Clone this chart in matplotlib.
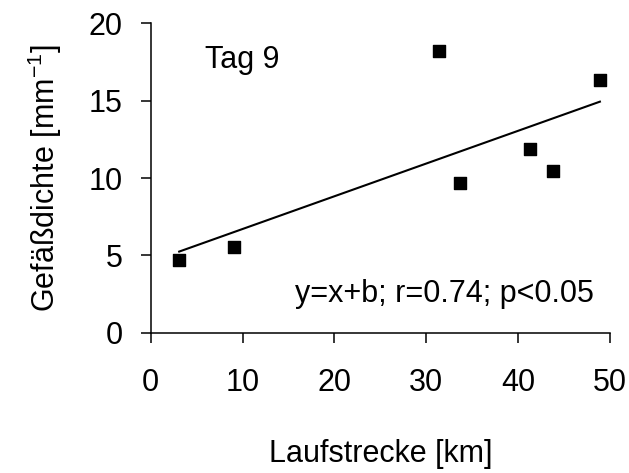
import numpy as np
import matplotlib
matplotlib.use("Agg")
import matplotlib.pyplot as plt

plt.rcParams["font.family"] = ["Liberation Sans", "DejaVu Sans"]
plt.rcParams["mathtext.fontset"] = "custom"
plt.rcParams["mathtext.rm"] = "Liberation Sans"
plt.rcParams["mathtext.it"] = "Liberation Sans:italic"

# Laufstrecke [km] vs. Gefäßdichte [mm^-1], Tag 9
laufstrecke = [3.1, 9.1, 31.4, 33.7, 41.3, 43.8, 48.9]
gefaessdichte = [4.7, 5.56, 18.2, 9.7, 11.87, 10.47, 16.33]

x_ticks = [0, 10, 20, 30, 40, 50]
y_ticks = [0, 5, 10, 15, 20]

fs = 22

fig = plt.figure(figsize=(6.29, 4.73), dpi=100)
ax = fig.add_axes([0.2396, 0.2966, 0.9698 - 0.2396, 0.9507 - 0.2966])

ax.scatter(laufstrecke, gefaessdichte, marker="s", s=8.5**2, color="black", zorder=3)

# lineare Regression
m, b = np.polyfit(laufstrecke, gefaessdichte, 1)
xs = np.array([min(laufstrecke), max(laufstrecke)])
ax.plot(xs, m * xs + b, color="black", linewidth=1.5)

ax.set_xlim(0, 50)
ax.set_ylim(0, 20)
ax.set_xticks(x_ticks)
ax.set_yticks(y_ticks)
ax.spines["top"].set_visible(False)
ax.spines["right"].set_visible(False)
for s in ["left", "bottom"]:
    ax.spines[s].set_linewidth(1.1)
ax.tick_params(direction="out", length=7.2, width=1.1, labelsize=fs)
ax.tick_params(axis="x", pad=18)
ax.tick_params(axis="y", pad=13)

ax.set_xlabel("Laufstrecke [km]", fontsize=fs, labelpad=30)
ax.set_ylabel("Gefäßdichte [mm$^{-1}$]", fontsize=fs, labelpad=18)

ax.text(5.9, 17.1, "Tag 9", fontsize=fs, ha="left", va="baseline")
ax.text(48.2, 1.98, "y=x+b; r=0.74; p<0.05", fontsize=fs, ha="right", va="baseline")

fig.savefig("out.png", dpi=100)
